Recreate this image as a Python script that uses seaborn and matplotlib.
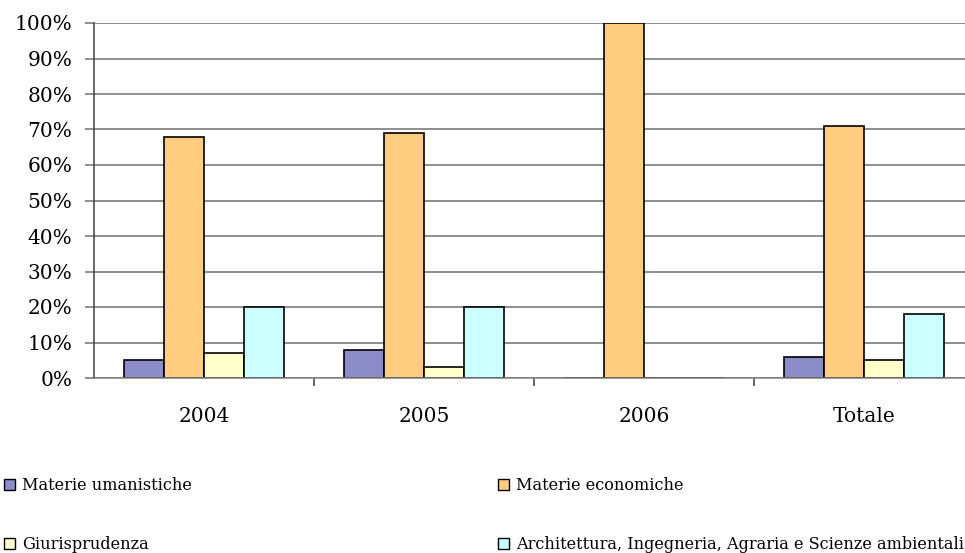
import matplotlib
matplotlib.use("Agg")
import matplotlib.pyplot as plt
import seaborn as sns
import pandas as pd
from matplotlib.ticker import FuncFormatter, FixedLocator

anni = ["2004", "2005", "2006", "Totale"]
materie = ["Materie umanistiche", "Materie economiche", "Giurisprudenza",
           "Architettura, Ingegneria, Agraria e Scienze ambientali"]
umanistiche = [5, 8, 0, 6]
economiche = [68, 69, 100, 71]
giurisprudenza = [7, 3, 0, 5]
architettura = [20, 20, 0, 18]
colori = ["#8c8cc8", "#ffcc80", "#ffffcc", "#ccffff"]

serie = [umanistiche, economiche, giurisprudenza, architettura]
rows = []
for m, vals in zip(materie, serie):
    for a, v in zip(anni, vals):
        rows.append({"anno": a, "materia": m, "valore": v})
df = pd.DataFrame(rows)

sns.set_style("white")
plt.rcParams["font.family"] = ["DejaVu Serif"]
plt.rcParams["text.color"] = "black"
plt.rcParams["xtick.color"] = "black"
plt.rcParams["ytick.color"] = "black"

fig = plt.figure(figsize=(9.65, 5.53), dpi=100)
ax = fig.add_axes([94/965, 1-378/553, 880/965, (378-23)/553])

sns.barplot(data=df, x="anno", y="valore", hue="materia", hue_order=materie,
            order=anni, palette=colori, width=0.73, edgecolor="black",
            linewidth=1.2, saturation=1, ax=ax)

ax.set_ylim(0, 100)
ax.set_xlim(-0.5, 3.5)
ax.set_yticks(range(0, 101, 10))
ax.yaxis.set_major_formatter(FuncFormatter(lambda v, p: f"{int(v)}%"))
ax.grid(axis="y", color="#707070", linewidth=1.1)
ax.set_axisbelow(True)
ax.set_xlabel("")
ax.set_ylabel("")
for s in ["top", "right"]:
    ax.spines[s].set_visible(False)
ax.spines["left"].set_color("#404040")
ax.spines["left"].set_linewidth(1.1)
ax.spines["bottom"].set_color("#808080")
ax.spines["bottom"].set_linewidth(1.1)

ax.tick_params(axis="y", which="major", length=6.5, width=1.1, color="#707070",
               pad=9, labelsize=14.5, left=True, labelcolor="black")
ax.tick_params(axis="x", which="major", length=0, pad=21, labelsize=14.5,
               bottom=True, labelcolor="black")
ax.xaxis.set_minor_locator(FixedLocator([0.5, 1.5, 2.5]))
ax.tick_params(axis="x", which="minor", length=6, width=1.1, color="#404040", bottom=True)

handles, labels = ax.get_legend_handles_labels()
ax.get_legend().remove()

common = dict(loc="upper left", frameon=False, fontsize=11.6, handlelength=0.7,
              handleheight=0.7, handletextpad=0.4, labelspacing=2.6,
              borderpad=0, borderaxespad=0)
leg1 = fig.legend([handles[0], handles[2]], [labels[0], labels[2]],
                  bbox_to_anchor=(4/965, 1-477/553), **common)
leg2 = fig.legend([handles[1], handles[3]], [labels[1], labels[3]],
                  bbox_to_anchor=(498/965, 1-477/553), **common)
for lg in (leg1, leg2):
    for h in lg.legend_handles:
        h.set_edgecolor("black")
        h.set_linewidth(1.0)
    for t in lg.get_texts():
        t.set_color("black")

fig.savefig("out.png", dpi=100)
